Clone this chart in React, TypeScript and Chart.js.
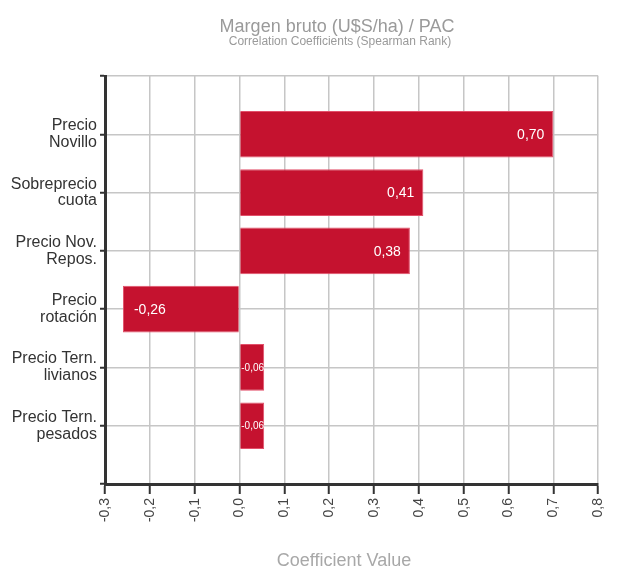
import React, { useEffect, useRef } from "react";
import { Chart, registerables } from "chart.js";

Chart.register(...registerables);

const categories: string[][] = [
  ["Precio", "Novillo"],
  ["Sobreprecio", "cuota"],
  ["Precio Nov.", "Repos."],
  ["Precio", "rotación"],
  ["Precio Tern.", "livianos"],
  ["Precio Tern.", "pesados"],
];
const coefficients: number[] = [0.7, 0.41, 0.38, -0.26, 0.055, 0.055];
const valueLabels: string[] = ["0,70", "0,41", "0,38", "-0,26", "-0,06", "-0,06"];
const xMin = -0.3;
const xMax = 0.8;
const xStep = 0.1;

const titleText = "Margen bruto (U$S/ha) / PAC";
const subtitleText = "Correlation Coefficients (Spearman Rank)";
const xTitleText = "Coefficient Value";

const FONT = "'Liberation Sans', Arial, sans-serif";

const textPlugin = {
  id: "textPlugin",
  afterDatasetsDraw(chart: any) {
    const ctx = chart.ctx;
    const meta = chart.getDatasetMeta(0);
    ctx.save();
    ctx.fillStyle = "#ffffff";
    ctx.textBaseline = "middle";
    meta.data.forEach((bar: any, i: number) => {
      const idx = i - 1;
      if (idx < 0 || idx >= coefficients.length) return;
      const p = bar.getProps(["x", "y", "base"], true);
      const w = Math.abs(p.x - p.base);
      const txt = valueLabels[idx];
      if (w < 40) {
        ctx.font = `10px ${FONT}`;
        ctx.textAlign = "left";
        ctx.fillText(txt, Math.min(p.x, p.base) + 1, p.y + 1);
      } else if (coefficients[idx] >= 0) {
        ctx.font = `14px ${FONT}`;
        ctx.textAlign = "right";
        ctx.fillText(txt, p.x - 9, p.y + 1);
      } else {
        ctx.font = `14px ${FONT}`;
        ctx.textAlign = "left";
        ctx.fillText(txt, p.x + 11, p.y + 1);
      }
    });
    ctx.restore();
  },
  afterDraw(chart: any) {
    const ctx = chart.ctx;
    ctx.save();
    ctx.textAlign = "center";
    ctx.textBaseline = "alphabetic";
    ctx.fillStyle = "#9a9a9a";
    ctx.font = `18px ${FONT}`;
    ctx.fillText(titleText, 337, 32);
    ctx.font = `12px ${FONT}`;
    ctx.fillText(subtitleText, 340, 45);
    ctx.fillStyle = "#a8a8a8";
    ctx.font = `18px ${FONT}`;
    ctx.fillText(xTitleText, 344, 566);
    ctx.restore();
  },
};

function fmt(v: number): string {
  if (Math.abs(v) < 1e-9) return "0,0";
  return v.toFixed(1).replace(".", ",");
}

export default function App() {
  const ref = useRef<HTMLCanvasElement | null>(null);

  useEffect(() => {
    if (!ref.current) return;
    const labels: any[] = ["", ...categories, ""];
    const data: (number | null)[] = [null, ...coefficients, null];
    const chart = new Chart(ref.current, {
      type: "bar",
      data: {
        labels,
        datasets: [
          {
            data,
            backgroundColor: "#c5122f",
            borderColor: "#e2506a",
            borderWidth: 1,
            barPercentage: 0.8,
            categoryPercentage: 1,
          },
        ],
      },
      options: {
        indexAxis: "y",
        animation: false,
        responsive: true,
        maintainAspectRatio: false,
        layout: { padding: { top: 76, right: 16, left: 0, bottom: 0 } },
        plugins: {
          legend: { display: false },
          tooltip: { enabled: false },
          title: { display: false },
        },
        scales: {
          x: {
            type: "linear",
            min: xMin,
            max: xMax,
            ticks: {
              stepSize: xStep,
              minRotation: 90,
              maxRotation: 90,
              padding: 4,
              color: "#444",
              font: { size: 14, family: FONT },
              callback: (v: any) => fmt(Number(v)),
            },
            grid: {
              color: "#c6c6c6",
              lineWidth: 1.5,
              tickColor: "#333",
              tickLength: 10,
              tickWidth: 2,
            },
            border: { color: "#333", width: 3 },
            afterFit: (s: any) => {
              s.height = 86;
            },
          },
          y: {
            type: "category",
            offset: false,
            ticks: {
              autoSkip: false,
              padding: 3,
              color: "#333",
              font: { size: 16, family: FONT, lineHeight: 1.05 },
            },
            grid: {
              offset: false,
              color: "#c6c6c6",
              lineWidth: 1.5,
              tickColor: "#333",
              tickLength: 5,
              tickWidth: 2,
            },
            border: { color: "#333", width: 3 },
            afterFit: (s: any) => {
              s.width = 105;
            },
          },
        },
      } as any,
      plugins: [textPlugin],
    });
    return () => chart.destroy();
  }, []);

  return (
    <div style={{ position: "fixed", left: 0, top: 0, width: 619, height: 570, background: "#fff" }}>
      <canvas ref={ref} />
    </div>
  );
}
